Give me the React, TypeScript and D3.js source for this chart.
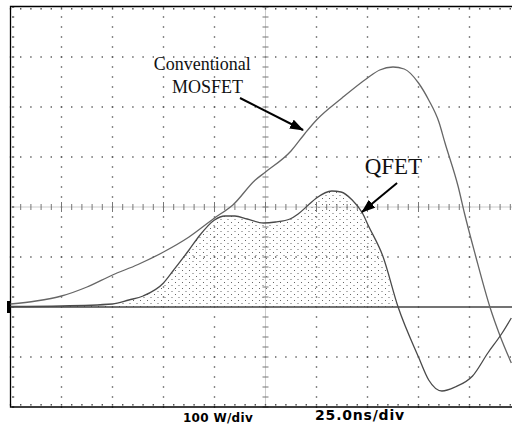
import * as d3 from 'd3'

// time in ns (25 ns/div), power in W (100 W/div)
const conventional: [number, number][] = [
  [0, 6], [12.5, 12], [25, 22], [37.5, 40], [50, 64], [62.5, 85], [75, 110], [87.5, 140],
  [100, 178], [109, 204], [120, 254], [125, 270], [137.5, 312], [144.5, 348], [150, 374],
  [162.5, 418], [175, 458], [181, 474], [187.5, 480], [193, 476], [200, 448], [205, 414],
  [210, 370], [213, 328], [219.5, 240], [222.5, 188], [228, 102], [235, 0], [240, -58], [245.5, -112],
]

const qfet: [number, number][] = [
  [0, 1], [25, 2], [50, 6], [58, 14], [65, 22], [75, 48], [80, 74], [87.5, 114], [92.5, 142],
  [100, 174], [105, 182], [110, 182], [116, 176], [124, 168], [130, 170], [137, 176], [141, 186],
  [146, 204], [150, 218], [157.5, 232], [162, 230], [167.5, 214], [172.5, 188], [175.5, 162],
  [182.5, 102], [190, 0], [200, -100], [205, -146], [211.5, -168], [218, -160], [226.5, -138],
  [234, -92], [241, -52], [245.5, -22],
]

const xMajor = d3.range(0, 251, 25)
const yMajor = d3.range(-200, 601, 100)
const xMinor = d3.range(0, 251, 5)
const yMinor = d3.range(-200, 601, 20)

const labels = [
  { text: 'Conventional', t: 94, p: 474, size: 18 },
  { text: 'MOSFET', t: 96.6, p: 428, size: 18 },
  { text: 'QFET', t: 187.7, p: 266, size: 23 },
]

const arrows = [
  { from: [112.5, 418], to: [143.4, 354] },
  { from: [189.5, 248], to: [172.3, 190] },
]

export default function App() {
  const W = 512, H = 426
  const left = 10.5, top = 6.5, bottom = 407
  const x = d3.scaleLinear().domain([0, 250]).range([left, left + 510])
  const y = d3.scaleLinear().domain([-200, 600]).range([bottom, top + 0.5])

  const line = d3.line<[number, number]>().x(d => x(d[0])).y(d => y(d[1])).curve(d3.curveMonotoneX)
  const area = d3.area<[number, number]>()
    .x(d => x(d[0])).y0(y(0)).y1(d => y(Math.max(0, d[1]))).curve(d3.curveMonotoneX)

  const gridX = xMajor.filter(v => v !== 0 && v !== 125)
  const gridY = yMajor.filter(v => v !== -200 && v !== 600 && v !== 0 && v !== 200)

  return (
    <div style={{ position: 'absolute', left: 0, top: 0 }}>
      <svg width={W} height={H} style={{ display: 'block', background: '#fff' }}>
        <defs>
          <pattern id="stip" width="7" height="6" patternUnits="userSpaceOnUse">
            <rect x="0" y="0" width="1" height="1" fill="#666" />
            <rect x="3.5" y="3" width="1" height="1" fill="#666" />
          </pattern>
          <marker id="ah" viewBox="0 0 14 10" refX="13" refY="5" markerWidth="14" markerHeight="10"
            markerUnits="userSpaceOnUse" orient="auto">
            <path d="M0,0 L14,5 L0,10 Z" fill="#000" />
          </marker>
        </defs>

        {/* dotted grid */}
        {gridX.map(v => yMinor.map(m => (
          <rect key={`gx${v}_${m}`} x={x(v) - 0.7} y={y(m) - 0.7} width={1.4} height={1.4} fill="#555" />
        )))}
        {gridY.map(v => xMinor.map(m => (
          <rect key={`gy${v}_${m}`} x={x(m) - 0.7} y={y(v) - 0.7} width={1.4} height={1.4} fill="#555" />
        )))}

        {/* center cross with ticks */}
        <line x1={left} x2={W} y1={y(200)} y2={y(200)} stroke="#999" strokeWidth={1} strokeDasharray="1,1" />
        <line x1={x(125)} x2={x(125)} y1={top} y2={bottom} stroke="#999" strokeWidth={1} strokeDasharray="1,1" />
        {xMinor.map(m => (
          <line key={`cx${m}`} x1={x(m)} x2={x(m)} y1={y(200) - (m % 25 === 0 ? 5 : 3)} y2={y(200) + (m % 25 === 0 ? 5 : 3)} stroke="#777" strokeWidth={1} />
        ))}
        {yMinor.map(m => (
          <line key={`cy${m}`} x1={x(125) - 3} x2={x(125) + 3} y1={y(m)} y2={y(m)} stroke="#777" strokeWidth={1} />
        ))}

        {/* edge ticks */}
        {xMinor.map(m => (
          <g key={`et${m}`}>
            <rect x={x(m) - 0.7} y={top + 1.5} width={1.4} height={1.6} fill="#555" />
            <rect x={x(m) - 0.7} y={bottom - 3} width={1.4} height={1.6} fill="#555" />
          </g>
        ))}
        {yMinor.map(m => (
          <rect key={`el${m}`} x={left + 1.5} y={y(m) - 0.7} width={2.2} height={1.4} fill="#555" />
        ))}

        {/* stippled energy area */}
        <path d={area(qfet) ?? ''} fill="url(#stip)" />

        {/* baseline */}
        <line x1={left} x2={W} y1={y(0)} y2={y(0)} stroke="#444" strokeWidth={1.3} />
        <rect x={7} y={y(0) - 6} width={4} height={12} fill="#000" />

        {/* frame */}
        <path d={`M${W},${top} H${left} V${bottom} H${W}`} fill="none" stroke="#000" strokeWidth={1.3} />

        {/* curves */}
        <path d={line(conventional) ?? ''} fill="none" stroke="#666" strokeWidth={1.3} />
        <path d={line(qfet) ?? ''} fill="none" stroke="#4a4a4a" strokeWidth={1.3} />

        {/* annotations */}
        {arrows.map((a, i) => (
          <line key={i} x1={x(a.from[0])} y1={y(a.from[1])} x2={x(a.to[0])} y2={y(a.to[1])}
            stroke="#000" strokeWidth={2} markerEnd="url(#ah)" />
        ))}
        {labels.map(l => (
          <text key={l.text} x={x(l.t)} y={y(l.p)} textAnchor="middle" fontSize={l.size}
            fontFamily="'Liberation Serif', 'Times New Roman', serif" fill="#111">{l.text}</text>
        ))}

        <text x={218} y={422} textAnchor="middle" fontSize={12} fontWeight="bold" letterSpacing={0.3}
          fontFamily="'DejaVu Sans', sans-serif" fill="#000">100 W/div</text>
        <text x={360} y={420} textAnchor="middle" fontSize={14} fontWeight="bold" letterSpacing={0.8}
          fontFamily="'DejaVu Sans', sans-serif" fill="#000">25.0ns/div</text>
      </svg>
    </div>
  )
}
